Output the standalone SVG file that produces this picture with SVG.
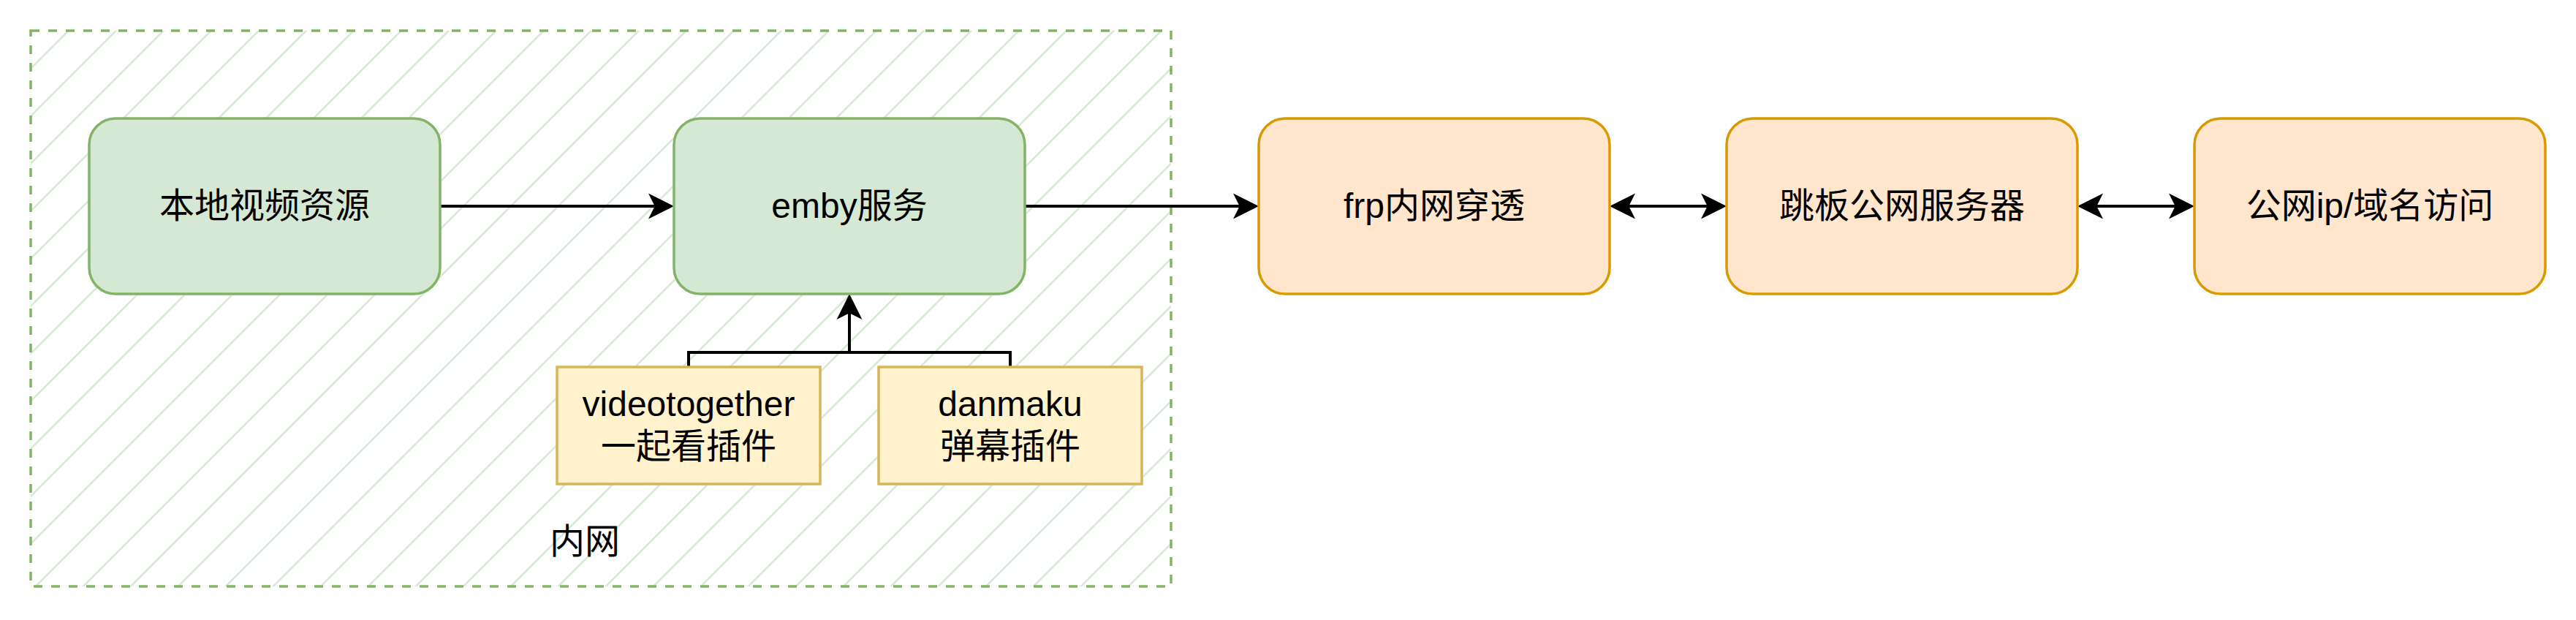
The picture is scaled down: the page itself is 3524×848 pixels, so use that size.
<svg xmlns="http://www.w3.org/2000/svg" width="3524" height="848" viewBox="0 0 3524 848">
  <style>
    .green { fill: #d5e8d4; stroke: #82b366; stroke-width: 3.5; }
    .orange { fill: #ffe6cc; stroke: #d79b00; stroke-width: 3.5; }
    .yellow { fill: #fff2cc; stroke: #d6b656; stroke-width: 3.5; }
    .lbl { font-family: "Liberation Sans", "Noto Sans CJK SC", sans-serif; font-size: 48px; fill: #000000; text-anchor: middle; }
    .edge { fill: none; stroke: #000000; stroke-width: 4; }
  </style>
  <defs>
    <pattern id="hatch" patternUnits="userSpaceOnUse" x="5.75" y="0" width="65" height="65">
      <path d="M-5,70 L70,-5 M-5,5 L5,-5 M60,70 L70,60" stroke="#d5e8d4" stroke-width="2.5" fill="none"/>
    </pattern>
    <marker id="arr" markerUnits="userSpaceOnUse" viewBox="0 0 36 36" markerWidth="36" markerHeight="36" refX="9" refY="18" orient="auto-start-reverse">
      <path d="M35,18 L0,0.5 L8.75,18 L0,35.5 Z" fill="#000000"/>
    </marker>
  </defs>
  <rect width="3524" height="848" fill="#ffffff"/>

  <g id="lan">
    <rect x="42" y="42" width="1560" height="760" fill="url(#hatch)"/>
    <rect x="42" y="42" width="1560" height="760" fill="none" stroke="#82b366" stroke-width="3.5" stroke-dasharray="12 12"/>
    <text class="lbl" x="800" y="757">内网</text>
  </g>

  <g id="connectors">
    <path class="edge" d="M602,282 H896" marker-end="url(#arr)"/>
    <path class="edge" d="M1402,282 H1696" marker-end="url(#arr)"/>
    <path class="edge" d="M2228,282 H2336" marker-start="url(#arr)" marker-end="url(#arr)"/>
    <path class="edge" d="M2868,282 H2976" marker-start="url(#arr)" marker-end="url(#arr)"/>
    <path class="edge" d="M942,502 V482 H1382 V502"/>
    <path class="edge" d="M1162,482 V428" marker-end="url(#arr)"/>
  </g>

  <g id="local-video">
    <rect class="green" x="122" y="162" width="480" height="240" rx="36" ry="36"/>
    <text class="lbl" x="362" y="298">本地视频资源</text>
  </g>
  <g id="emby">
    <rect class="green" x="922" y="162" width="480" height="240" rx="36" ry="36"/>
    <text class="lbl" x="1162" y="298">emby服务</text>
  </g>
  <g id="videotogether">
    <rect class="yellow" x="762" y="502" width="360" height="160"/>
    <text class="lbl" x="942" y="569">videotogether</text>
    <text class="lbl" x="942" y="627">一起看插件</text>
  </g>
  <g id="danmaku">
    <rect class="yellow" x="1202" y="502" width="360" height="160"/>
    <text class="lbl" x="1382" y="569">danmaku</text>
    <text class="lbl" x="1382" y="627">弹幕插件</text>
  </g>
  <g id="frp">
    <rect class="orange" x="1722" y="162" width="480" height="240" rx="36" ry="36"/>
    <text class="lbl" x="1962" y="298">frp内网穿透</text>
  </g>
  <g id="jump-server">
    <rect class="orange" x="2362" y="162" width="480" height="240" rx="36" ry="36"/>
    <text class="lbl" x="2602" y="298">跳板公网服务器</text>
  </g>
  <g id="public-access">
    <rect class="orange" x="3002" y="162" width="480" height="240" rx="36" ry="36"/>
    <text class="lbl" x="3242" y="298">公网ip/域名访问</text>
  </g>
</svg>
